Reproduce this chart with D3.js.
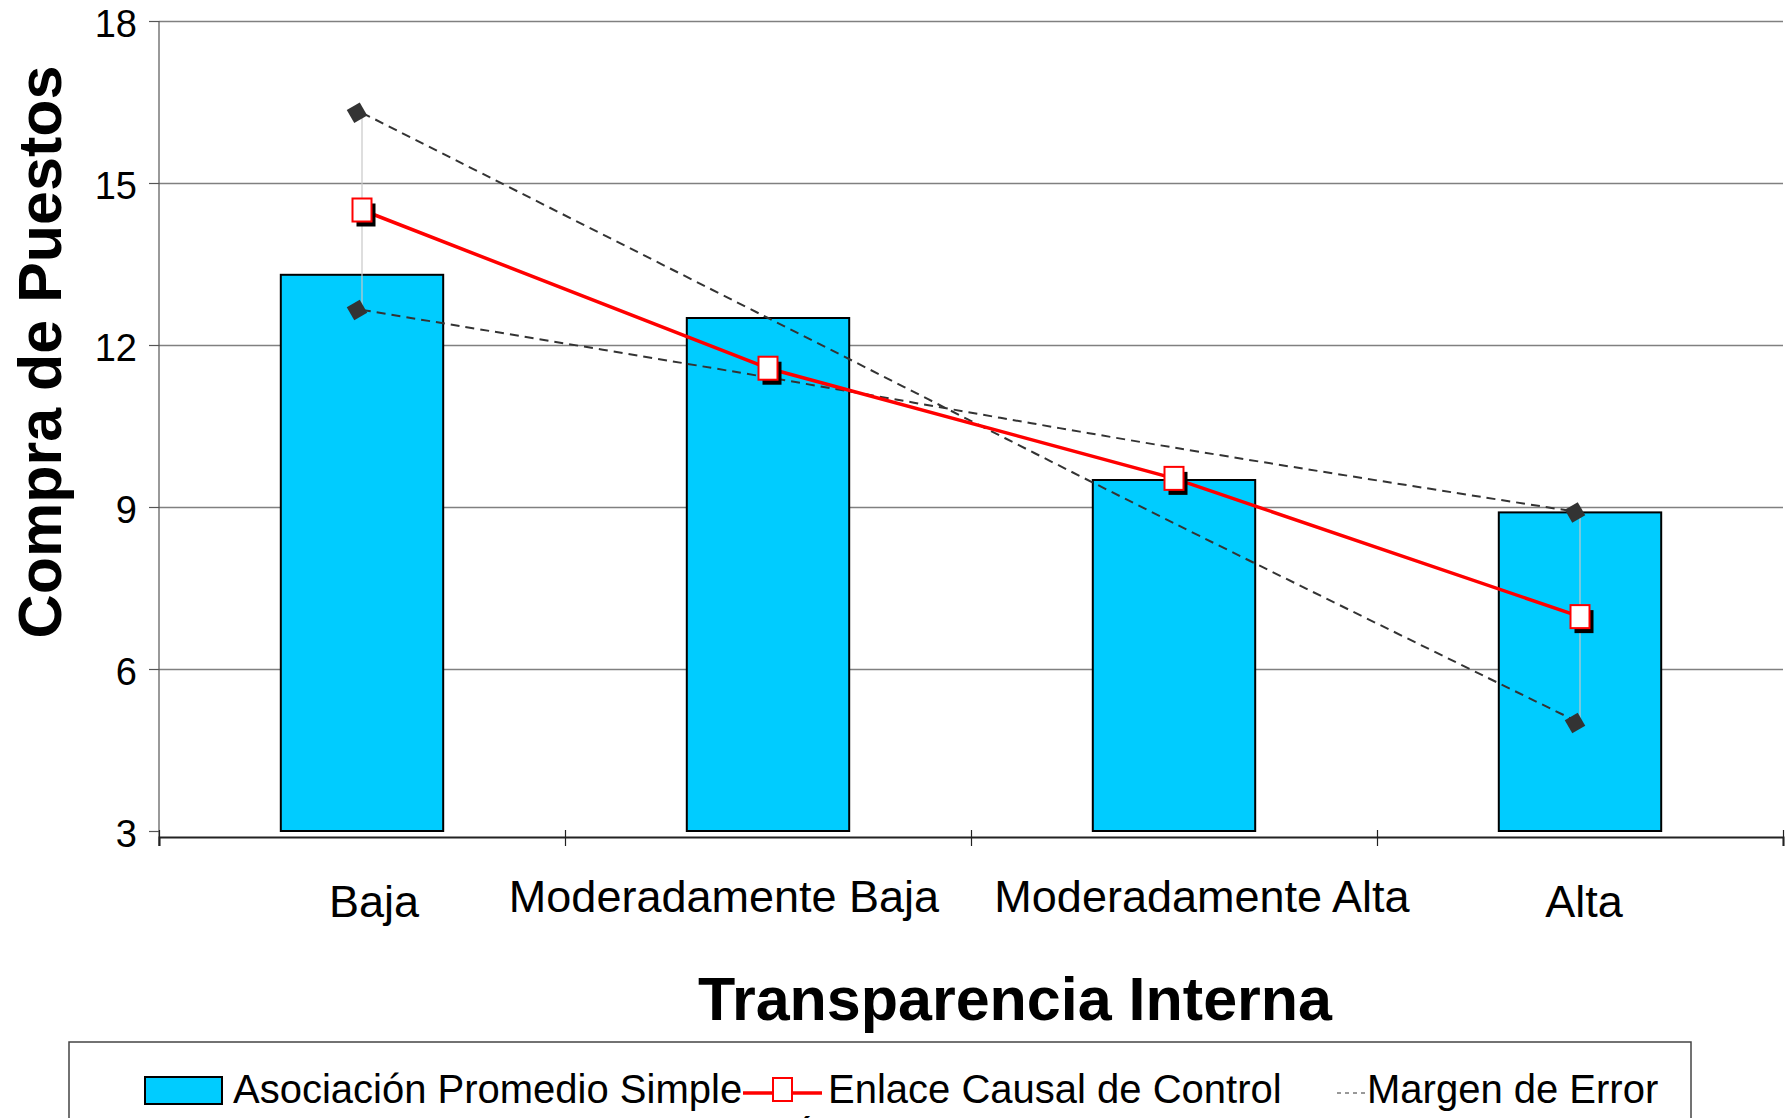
<!DOCTYPE html>
<html>
<head>
<meta charset="utf-8">
<script src="https://cdn.jsdelivr.net/npm/d3@7"></script>
<style>
  body { margin: 0; background: #fff; }
  text { font-family: "Liberation Sans", Arial, sans-serif; fill: #000; }
</style>
</head>
<body>
<div id="chart"></div>
<script>
// Chart values
const categories = ["Baja", "Moderadamente Baja", "Moderadamente Alta", "Alta"];
const promedioSimple = [13.3, 12.5, 9.5, 8.9];
const enlaceCausal = [14.5, 11.57, 9.53, 6.97];
const margenA = [16.3, 12.5, 8.7, 5.0];
const margenB = [12.65, 11.4, 10.1, 8.9];
const yTicks = [3, 6, 9, 12, 15, 18];
const legendLabels = ["Asociación Promedio Simple", "Enlace Causal de Control", "Margen de Error"];

// Layout
const W = 1792, H = 1118;
const plotLeft = 159, plotRight = 1783, plotTop = 21, plotBottom = 831;
const axisY = 837;
const labelShift = [12, -44, 28, 4];
const labelBase = [917, 912, 912, 917];

const svg = d3.select("#chart")
  .append("svg")
    .attr("width", W)
    .attr("height", H)
    .style("background", "#fff");

const x = d3.scaleBand()
  .domain(categories)
  .range([plotLeft, plotRight]);

const y = d3.scaleLinear()
  .domain([3, 18])
  .range([plotBottom, plotTop]);

const cx = d => x(d) + x.bandwidth() / 2;

// Gridlines
svg.append("g")
  .attr("transform", `translate(${plotLeft},0)`)
  .call(d3.axisLeft(y).tickValues(yTicks.filter(t => t > 3)).tickSize(-(plotRight - plotLeft)).tickFormat(""))
  .call(g => g.select(".domain").remove())
  .call(g => g.selectAll("line").attr("stroke", "#808080").attr("stroke-width", 1.5));

// Y axis
svg.append("g")
  .attr("transform", `translate(${plotLeft},0)`)
  .call(d3.axisLeft(y).tickValues(yTicks).tickSize(10).tickPadding(12))
  .call(g => g.select(".domain").remove())
  .call(g => g.selectAll("line").attr("stroke", "#555").attr("stroke-width", 1.2))
  .call(g => g.selectAll("text")
      .attr("dy", null)
      .attr("y", 15)
      .attr("fill", "#000")
      .style("font-size", "38px")
      .style("font-family", "Liberation Sans, Arial, sans-serif"));

svg.append("line")
  .attr("x1", plotLeft).attr("x2", plotLeft)
  .attr("y1", plotTop).attr("y2", axisY + 9)
  .attr("stroke", "#555").attr("stroke-width", 1.2);

// X axis (ticks at category boundaries)
const xEdge = d3.scaleLinear().domain([0, categories.length]).range([plotLeft, plotRight]);
svg.append("g")
  .attr("transform", `translate(0,${axisY})`)
  .call(d3.axisBottom(xEdge).ticks(categories.length).tickSize(9).tickFormat(""))
  .call(g => g.select(".domain").attr("stroke", "#222").attr("stroke-width", 2))
  .call(g => g.selectAll(".tick line").attr("y1", -7).attr("stroke", "#222").attr("stroke-width", 1.2));

// Category labels
svg.selectAll(".cat")
  .data(categories)
  .enter().append("text")
    .attr("class", "cat")
    .attr("x", (d, i) => cx(d) + labelShift[i])
    .attr("y", (d, i) => labelBase[i])
    .attr("text-anchor", "middle")
    .style("font-size", "45px")
    .text(d => d);

// Bars
const barW = x.bandwidth() * 0.4;
svg.selectAll(".bar")
  .data(promedioSimple)
  .enter().append("rect")
    .attr("class", "bar")
    .attr("x", (d, i) => cx(categories[i]) - barW / 2)
    .attr("y", d => y(d))
    .attr("width", barW)
    .attr("height", d => y(3) - y(d))
    .attr("fill", "#00CCFF")
    .attr("stroke", "#000")
    .attr("stroke-width", 2);

// High-low lines at the ends
const last = categories.length - 1;
svg.selectAll(".hilo")
  .data([0, last])
  .enter().append("line")
    .attr("class", "hilo")
    .attr("x1", i => cx(categories[i]))
    .attr("x2", i => cx(categories[i]))
    .attr("y1", i => y(margenA[i]))
    .attr("y2", i => y(margenB[i]))
    .attr("stroke", "#c8c8c8")
    .attr("stroke-width", 1.2);

// Margin lines
const smooth = d3.line()
  .x((d, i) => cx(categories[i]))
  .y(d => y(d))
  .curve(d3.curveCatmullRom);

[margenA, margenB].forEach(s => {
  svg.append("path")
    .datum(s)
    .attr("fill", "none")
    .attr("stroke", "#333")
    .attr("stroke-width", 2)
    .attr("stroke-dasharray", "9,6")
    .attr("d", smooth);
});

// Red line
svg.append("path")
  .datum(enlaceCausal)
  .attr("fill", "none")
  .attr("stroke", "#FF0000")
  .attr("stroke-width", 3.5)
  .attr("d", d3.line().x((d, i) => cx(categories[i])).y(d => y(d)));

// Diamonds at the ends
[margenA, margenB].forEach(s => {
  svg.selectAll(null)
    .data([0, last])
    .enter().append("rect")
      .attr("x", -7.5).attr("y", -7.5)
      .attr("width", 15).attr("height", 15)
      .attr("fill", "#333")
      .attr("transform", i => `translate(${cx(categories[i]) - 5},${y(s[i])}) rotate(60)`);
});

// Square markers with shadow
const mk = svg.selectAll(".mk")
  .data(enlaceCausal)
  .enter().append("g")
    .attr("class", "mk")
    .attr("transform", (d, i) => `translate(${cx(categories[i])},${y(d)})`);
mk.append("rect")
  .attr("x", -9.5 + 4).attr("y", -11.5 + 5)
  .attr("width", 19).attr("height", 23)
  .attr("fill", "#000");
mk.append("rect")
  .attr("x", -9.5).attr("y", -11.5)
  .attr("width", 19).attr("height", 23)
  .attr("fill", "#fff")
  .attr("stroke", "#FF0000")
  .attr("stroke-width", 2);

// Axis titles
svg.append("text")
  .attr("transform", "translate(61,352) rotate(-90)")
  .attr("text-anchor", "middle")
  .style("font-size", "61px")
  .style("font-weight", "bold")
  .text("Compra de Puestos");

svg.append("text")
  .attr("x", 1015)
  .attr("y", 1020)
  .attr("text-anchor", "middle")
  .style("font-size", "61px")
  .style("font-weight", "bold")
  .text("Transparencia Interna");

// Legend
const lg = svg.append("g");
lg.append("rect")
  .attr("x", 69).attr("y", 1042)
  .attr("width", 1622).attr("height", 200)
  .attr("fill", "#fff")
  .attr("stroke", "#444")
  .attr("stroke-width", 1.5);

lg.append("rect")
  .attr("x", 145).attr("y", 1077)
  .attr("width", 77).attr("height", 27)
  .attr("fill", "#00CCFF")
  .attr("stroke", "#000")
  .attr("stroke-width", 2);
lg.append("text")
  .attr("x", 233).attr("y", 1103)
  .style("font-size", "40px")
  .text(legendLabels[0]);

lg.append("line")
  .attr("x1", 743).attr("x2", 822)
  .attr("y1", 1093).attr("y2", 1093)
  .attr("stroke", "#FF0000").attr("stroke-width", 3.5);
lg.append("rect")
  .attr("x", 773).attr("y", 1078)
  .attr("width", 19).attr("height", 23)
  .attr("fill", "#fff")
  .attr("stroke", "#FF0000").attr("stroke-width", 2);
lg.append("text")
  .attr("x", 828).attr("y", 1103)
  .style("font-size", "40px")
  .text(legendLabels[1]);

lg.append("line")
  .attr("x1", 1337).attr("x2", 1366)
  .attr("y1", 1093).attr("y2", 1093)
  .attr("stroke", "#333").attr("stroke-width", 1)
  .attr("stroke-dasharray", "4,4");
lg.append("text")
  .attr("x", 1367).attr("y", 1103)
  .style("font-size", "40px")
  .text(legendLabels[2]);

// cut-off accent of a second legend row
lg.append("text")
  .attr("x", 800).attr("y", 1146)
  .style("font-size", "40px")
  .text("´");
</script>
</body>
</html>
